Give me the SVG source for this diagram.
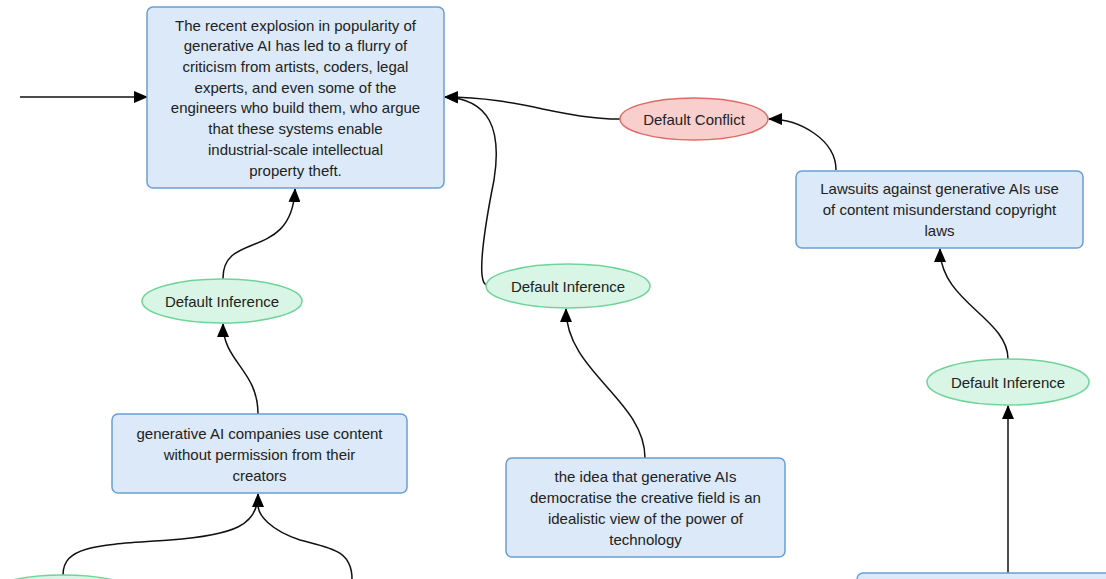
<svg xmlns="http://www.w3.org/2000/svg" width="1106" height="579" viewBox="0 0 1106 579">
<style>
.box{fill:#dbe9f8;stroke:#6a9fd4;stroke-width:1.5}
.inf{fill:#d8f5e6;stroke:#6fd49a;stroke-width:1.5}
.con{fill:#f8cfcd;stroke:#e06b66;stroke-width:1.5}
.t{font-family:"Liberation Sans",Arial,sans-serif;font-size:15px;fill:#222;text-anchor:middle;dominant-baseline:central}
.e{fill:none;stroke:#111;stroke-width:1.5;marker-end:url(#arr)}
</style>
<defs>
<marker id="arr" markerUnits="userSpaceOnUse" markerWidth="14" markerHeight="12" refX="13" refY="6" orient="auto">
<path d="M0,0 L14,6 L0,12 z" fill="#000"/>
</marker>
</defs>
<rect width="1106" height="579" fill="#fff"/>
<g id="edges">
<path class="e" d="M20,97 L147,97"/>
<path class="e" d="M620,119 C560,119 520,97 445,97"/>
<path class="e" d="M487,285 C476,284 484,230 494,180 C502,130 490,99 445,97"/>
<path class="e" d="M836,170 C836,140 800,119 769,119"/>
<path class="e" d="M1008,359 C1008,318 940,302 940,249"/>
<path class="e" d="M1008,574 L1008,406"/>
<path class="e" d="M223,279 C222,230 292,262 295,189"/>
<path class="e" d="M258,414 C258,370 223,362 223,324"/>
<path class="e" d="M645,458 C645,400 566,372 566,309"/>
<path class="e" d="M63,575 C63,545 100,545 170,540 C235,535 258,525 258,494"/>
<path fill="none" stroke="#111" stroke-width="1.5" d="M352,579 C352,550 330,548 300,540 C270,530 258,515 258,505"/>
</g>
<g id="n-main">
<rect class="box" x="147" y="7" width="297" height="181" rx="6"/>
<text class="t" x="295.5" y="25">The recent explosion in popularity of</text>
<text class="t" x="295.5" y="45.7">generative AI has led to a flurry of</text>
<text class="t" x="295.5" y="66.4">criticism from artists, coders, legal</text>
<text class="t" x="295.5" y="87.1">experts, and even some of the</text>
<text class="t" x="295.5" y="107.8">engineers who build them, who argue</text>
<text class="t" x="295.5" y="128.5">that these systems enable</text>
<text class="t" x="295.5" y="149.2">industrial-scale intellectual</text>
<text class="t" x="295.5" y="170">property theft.</text>
</g>
<g id="n-conflict">
<ellipse class="con" cx="694" cy="119" rx="74" ry="21"/>
<text class="t" x="694" y="119">Default Conflict</text>
</g>
<g id="n-lawsuits">
<rect class="box" x="796" y="171" width="287" height="77" rx="6"/>
<text class="t" x="939.5" y="188.5">Lawsuits against generative AIs use</text>
<text class="t" x="939.5" y="209.5">of content misunderstand copyright</text>
<text class="t" x="939.5" y="230.5">laws</text>
</g>
<g id="n-inf-left">
<ellipse class="inf" cx="222" cy="301" rx="80" ry="22"/>
<text class="t" x="222" y="301">Default Inference</text>
</g>
<g id="n-inf-mid">
<ellipse class="inf" cx="568" cy="286" rx="82" ry="22"/>
<text class="t" x="568" y="286">Default Inference</text>
</g>
<g id="n-inf-right">
<ellipse class="inf" cx="1008" cy="382" rx="81" ry="23"/>
<text class="t" x="1008" y="382">Default Inference</text>
</g>
<g id="n-genai">
<rect class="box" x="112" y="414" width="295" height="79" rx="6"/>
<text class="t" x="259.5" y="433">generative AI companies use content</text>
<text class="t" x="259.5" y="454">without permission from their</text>
<text class="t" x="259.5" y="475">creators</text>
</g>
<g id="n-idea">
<rect class="box" x="506" y="458" width="279" height="99" rx="6"/>
<text class="t" x="645.5" y="476">the idea that generative AIs</text>
<text class="t" x="645.5" y="497">democratise the creative field is an</text>
<text class="t" x="645.5" y="518">idealistic view of the power of</text>
<text class="t" x="645.5" y="539">technology</text>
</g>
<g id="n-inf-bottom">
<ellipse class="inf" cx="63" cy="597" rx="80" ry="22"/>
</g>
<g id="n-bottom-right">
<rect class="box" x="857" y="573" width="280" height="60" rx="6"/>
</g>
</svg>
